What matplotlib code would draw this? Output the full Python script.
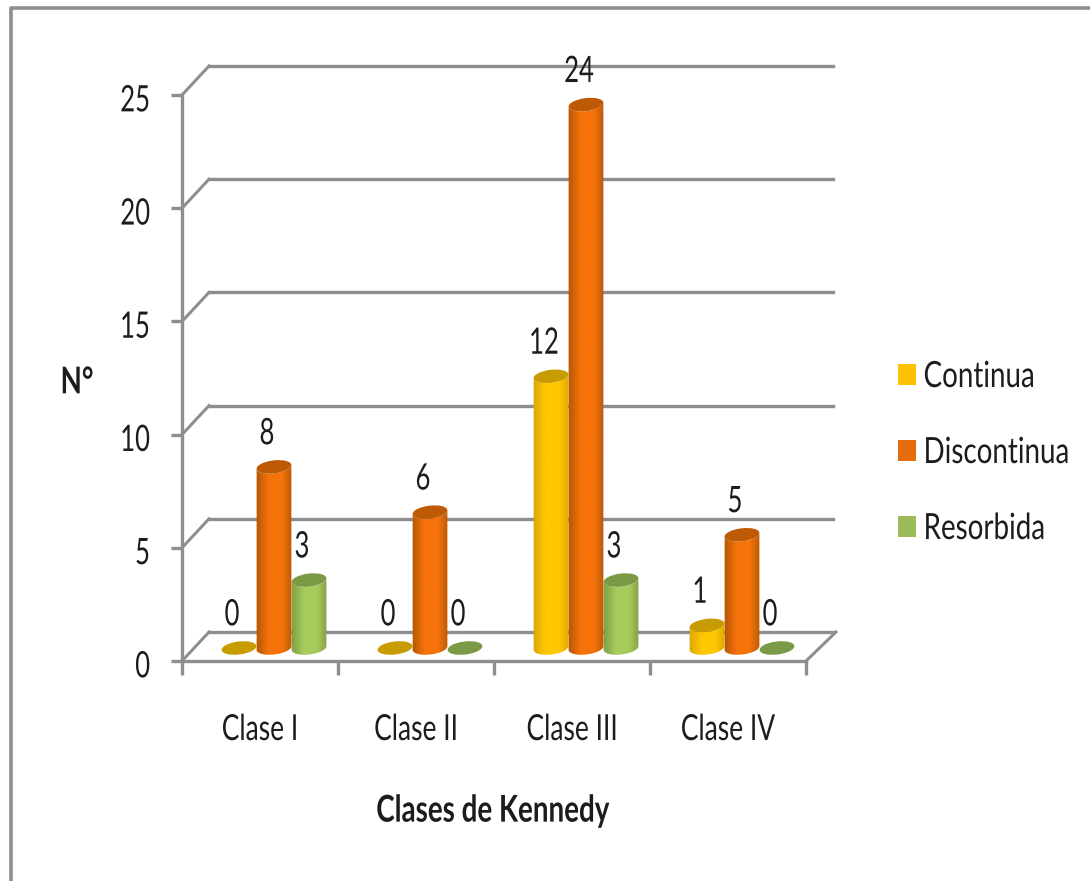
import numpy as np
import matplotlib
matplotlib.use("Agg")
import matplotlib.pyplot as plt
import matplotlib.patheffects as pe
from matplotlib.lines import Line2D
from matplotlib.patches import Patch, Ellipse
from matplotlib.path import Path
from matplotlib.colors import LinearSegmentedColormap
from matplotlib.transforms import Affine2D, IdentityTransform, ScaledTranslation

categories = ["Clase I", "Clase II", "Clase III", "Clase IV"]
series_names = ["Continua", "Discontinua", "Resorbida"]
continua = [0, 0, 12, 1]
discontinua = [8, 6, 24, 5]
resorbida = [3, 0, 3, 0]
y_ticks = [0, 5, 10, 15, 20, 25]

body_light = ["#FFC800", "#F5730A", "#A6CB5C"]
body_dark = ["#D9A300", "#B05404", "#7C9A42"]
cap_color = ["#C79C00", "#BE5A05", "#7A9A45"]
legend_color = ["#FFC000", "#E46C0A", "#9BBB59"]
GRAY = "#8E8E8E"
TEXT = "#1c1c1c"

plt.rcParams["font.family"] = ["Lato", "DejaVu Sans"]


class TallText(pe.AbstractPathEffect):
    """Stretch a text vertically about its own middle, as in the squeezed original."""

    def __init__(self, sy, dy=0):
        super().__init__()
        self.sy = sy
        self.dy = dy

    def draw_path(self, renderer, gc, tpath, affine, rgbFace=None):
        e = tpath.get_extents()
        c = (e.y0 + e.y1) / 2
        stretch = Affine2D().translate(0, -c).scale(1, self.sy).translate(0, c)
        renderer.draw_path(gc, tpath, stretch + affine + Affine2D().translate(0, self.dy), rgbFace)


W, H = 1090, 881
fig = plt.figure(figsize=(W / 100, H / 100), dpi=100, facecolor="white")
L, R, T, B = 182, 806, 95, 661
ax = fig.add_axes([L / W, 1 - B / H, (R - L) / W, (B - T) / H])
ax.set_xlim(0, 4)
ax.set_ylim(0, 25)
ax.patch.set_alpha(0)

LW = 2.4
back = Affine2D().translate(27, 29)
mid = Affine2D().translate(14, 13)
t_back = ax.transData + back
t_mid = ax.transData + mid

# outer frame
fig.add_artist(Line2D([11 / W, 11 / W, 1], [0, 1 - 8 / H, 1 - 8 / H], color=GRAY, lw=2.6))

# walls and floor
for v in y_ticks:
    ax.plot([0, 4], [v, v], transform=t_back, color=GRAY, lw=LW, clip_on=False, zorder=1,
            solid_capstyle="projecting")
    x0, y0 = ax.transData.transform((0, v))
    ax.plot([x0, x0 + 27], [y0, y0 + 29], transform=IdentityTransform(), color=GRAY, lw=LW * 0.9,
            clip_on=False, zorder=1)
xr, yr = ax.transData.transform((4, 0))
ax.plot([xr, xr + 30], [yr, yr + 29], transform=IdentityTransform(), color=GRAY, lw=LW * 0.9,
        clip_on=False, zorder=1)

# cylinders
RX, RY, TILT = 17.5, 6.5, 7
theta = np.radians(TILT)
cmaps = [LinearSegmentedColormap.from_list("c", [(0, d), (0.35, l), (0.7, l), (1, d)], N=64)
         for d, l in zip(body_dark, body_light)]
grad = np.linspace(0, 1, 64).reshape(1, -1)
step = 0.2244
order = [0, 2, 1]
values = [continua, discontinua, resorbida]
DIGIT = TallText(1.42)


def ell(cx, cy, ts):
    ex, ey = RX * np.cos(ts), RY * np.sin(ts)
    return np.c_[cx + ex * np.cos(theta) - ey * np.sin(theta),
                 cy + ex * np.sin(theta) + ey * np.cos(theta)]


for s in order:
    for i, v in enumerate(values[s]):
        x = i + 0.5 + (s - 1) * step
        z = 3 + order.index(s)
        if v > 0:
            bx, by = t_mid.transform((x, 0))
            tx, ty = t_mid.transform((x, v))
            ts = np.linspace(np.pi, 2 * np.pi, 40)
            pts = np.vstack([ell(bx, by, ts), ell(tx, ty, ts[::-1])])
            im = ax.imshow(grad, cmap=cmaps[s], aspect="auto", interpolation="bilinear",
                           extent=[x - step / 2 - 0.01, x + step / 2 + 0.01, -0.5, v + 0.5],
                           transform=t_mid, zorder=z)
            im.set_clip_path(Path(np.vstack([pts, pts[:1]]), closed=True), IdentityTransform())
        cap = Ellipse((0, 0), 2, 2, facecolor=cap_color[s], edgecolor="none", zorder=z + 0.01,
                      clip_on=False,
                      transform=Affine2D().scale(RX, RY).rotate_deg(TILT)
                      + ScaledTranslation(x, v, t_mid))
        ax.add_patch(cap)
        ax.text(x, v, str(v), transform=ax.transData + Affine2D().translate(7, 47),
                ha="center", va="center", fontsize=18.5, color=TEXT, zorder=10, clip_on=False,
                path_effects=[DIGIT])
ax.set_xlim(0, 4)
ax.set_ylim(0, 25)

# axes
for side in ("top", "right"):
    ax.spines[side].set_visible(False)
for side in ("left", "bottom"):
    ax.spines[side].set_color(GRAY)
    ax.spines[side].set_linewidth(LW)
    ax.spines[side].set_zorder(2)
ax.set_yticks(y_ticks)
ax.set_xticks(range(5))
ax.set_xticklabels([])
ax.set_xticks(np.arange(4) + 0.5, minor=True)
ax.set_xticklabels(categories, minor=True)
ax.tick_params(axis="x", which="major", length=10, width=LW, color=GRAY)
ax.tick_params(axis="x", which="minor", length=0, pad=40, labelsize=19, labelcolor=TEXT)
ax.tick_params(axis="y", length=8, width=LW, color=GRAY, pad=15, labelsize=18.5, labelcolor=TEXT)
for lab in ax.get_yticklabels():
    lab.set_path_effects([TallText(1.42, dy=-2.5)])
for lab in ax.get_xticklabels(minor=True):
    lab.set_path_effects([TallText(1.36)])

fig.text(493 / W, 1 - 811 / H, "Clases de Kennedy", ha="center", va="center",
         fontsize=20, fontweight="bold", color=TEXT, path_effects=[TallText(1.33)])
fig.text(77 / W, 1 - 382 / H, "N°", ha="center", va="center",
         fontsize=20, fontweight="bold", color=TEXT, path_effects=[TallText(1.33)])

handles = [Patch(facecolor=c, edgecolor="none") for c in legend_color]
leg = ax.legend(handles, series_names, loc="upper left", bbox_to_anchor=(898 / W, 1 - 363 / H),
                bbox_transform=fig.transFigure, frameon=False, fontsize=20,
                handlelength=0.65, handleheight=0.76, handletextpad=0.27, labelspacing=1.8,
                labelcolor=TEXT, borderpad=0, borderaxespad=0)
for t in leg.get_texts():
    t.set_path_effects([TallText(1.3)])

fig.savefig("out.png", dpi=100, facecolor="white")
